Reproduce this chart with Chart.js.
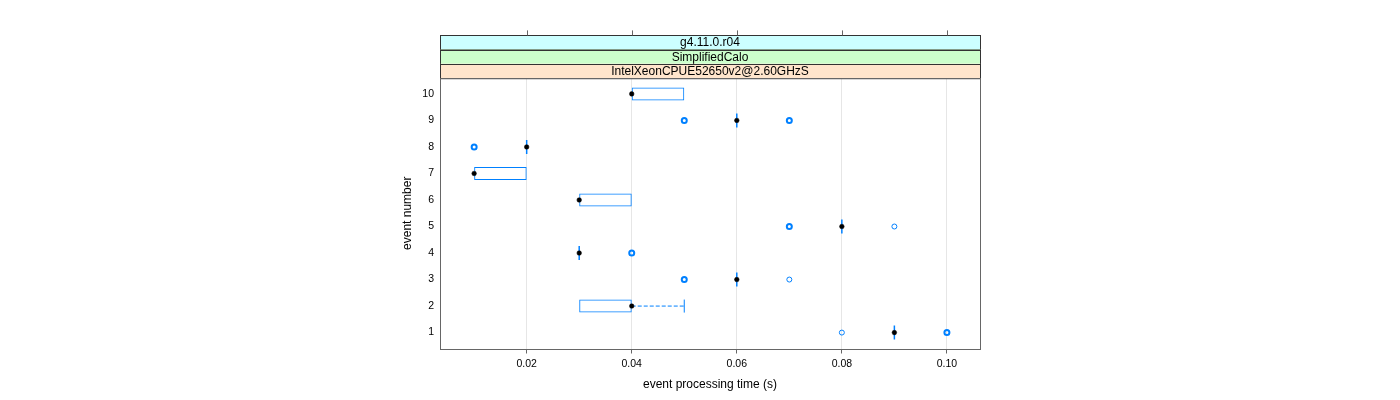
<!DOCTYPE html>
<html>
<head>
<meta charset="utf-8">
<script src="https://cdn.jsdelivr.net/npm/chart.js@4.4.1/dist/chart.umd.min.js"></script>
<style>
html, body { margin: 0; padding: 0; background: #fff; }
#wrap { width: 1400px; height: 400px; }
</style>
</head>
<body>
<div id="wrap"><canvas id="canvas" width="1400" height="400"></canvas></div>
<script>
// box plot summary per event
const events        = [1, 2, 3, 4, 5, 6, 7, 8, 9, 10];
const medians       = [0.09, 0.04, 0.06, 0.03, 0.08, 0.03, 0.01, 0.02, 0.06, 0.04];
const lowerHinges   = [0.09, 0.03, 0.06, 0.03, 0.08, 0.03, 0.01, 0.02, 0.06, 0.04];
const upperHinges   = [0.09, 0.04, 0.06, 0.03, 0.08, 0.04, 0.02, 0.02, 0.06, 0.05];
const upperWhiskers = [0.09, 0.05, 0.06, 0.03, 0.08, 0.04, 0.02, 0.02, 0.06, 0.05];

const outlierEvents = [9, 9, 8, 5, 5, 4, 3, 3, 1, 1];
const outlierTimes  = [0.05, 0.07, 0.01, 0.07, 0.09, 0.04, 0.05, 0.07, 0.08, 0.10];
const outlierCounts = [2, 2, 2, 2, 1, 2, 2, 1, 1, 2];

const xTicks = [0.02, 0.04, 0.06, 0.08, 0.10];
const xTickLabels = ["0.02", "0.04", "0.06", "0.08", "0.10"];
const yTicks = [1, 2, 3, 4, 5, 6, 7, 8, 9, 10];

const stripLabels = ["g4.11.0.r04", "SimplifiedCalo", "IntelXeonCPUE52650v2@2.60GHzS"];
const stripColors = ["#ccffff", "#ccffcc", "#ffe5cc"];

const blue = "#0080ff";
const fontFamily = "'Liberation Sans', Arial, Helvetica, sans-serif";

let boxes = [];
let flatBoxes = [];
events.forEach((e, i) => {
    if (upperHinges[i] > lowerHinges[i]) boxes.push({ y: e, x: [lowerHinges[i], upperHinges[i]] });
    else flatBoxes.push({ x: medians[i], y: e });
});

let whiskerSets = [];
let caps = [];
events.forEach((e, i) => {
    if (upperWhiskers[i] > upperHinges[i]) {
        whiskerSets.push({
            type: "scatter",
            data: [{ x: upperHinges[i], y: e }, { x: upperWhiskers[i], y: e }],
            showLine: true,
            borderColor: blue,
            borderWidth: 1,
            borderDash: [4, 2],
            pointRadius: 0
        });
        caps.push({ x: upperWhiskers[i], y: e });
    }
});

const stripsPlugin = {
    id: "strips",
    afterDraw(chart) {
        const ctx = chart.ctx;
        const area = chart.chartArea;
        const h = 14.2;
        const left = Math.round(area.left) + 0.5;
        const width = Math.round(area.right - area.left);
        ctx.save();
        // strips
        stripLabels.forEach((label, i) => {
            const top = area.top - (stripLabels.length - i) * h;
            ctx.fillStyle = stripColors[i];
            ctx.fillRect(left, top, width, h);
            ctx.strokeStyle = "#333";
            ctx.lineWidth = 1;
            ctx.strokeRect(left, Math.round(top) + 0.5, width, h);
            ctx.fillStyle = "#000";
            ctx.font = "12px " + fontFamily;
            ctx.textAlign = "center";
            ctx.textBaseline = "middle";
            ctx.fillText(label, (area.left + area.right) / 2, top + h / 2 + 0.5);
        });
        // top axis ticks
        const stripTop = area.top - stripLabels.length * h;
        ctx.strokeStyle = "#666";
        ctx.beginPath();
        xTicks.forEach(v => {
            const px = Math.round(chart.scales.x.getPixelForValue(v)) + 0.5;
            ctx.moveTo(px, stripTop);
            ctx.lineTo(px, stripTop - 5);
        });
        ctx.stroke();
        // panel border
        ctx.strokeStyle = "#666";
        ctx.strokeRect(left, Math.round(area.top) + 0.5, width, Math.round(area.bottom - area.top));
        ctx.restore();
    }
};

let chart = new Chart(document.getElementById("canvas").getContext("2d"), {
    type: "scatter",
    data: {
        datasets: [
            {
                data: events.map((e, i) => ({ x: medians[i], y: e })),
                pointRadius: 2.3,
                pointBackgroundColor: "#000",
                pointBorderColor: "#000",
                pointBorderWidth: 0.5
            },
            {
                data: outlierEvents.map((e, i) => ({ x: outlierTimes[i], y: e })),
                pointRadius: 2.5,
                pointBackgroundColor: "rgba(0,0,0,0)",
                pointBorderColor: blue,
                pointBorderWidth: ctx => outlierCounts[ctx.dataIndex] > 1 ? 2 : 1
            },
            {
                data: flatBoxes,
                pointStyle: "line",
                rotation: 90,
                pointRadius: 7,
                pointBorderColor: blue,
                pointBorderWidth: 1.5
            },
            {
                data: caps,
                pointStyle: "line",
                rotation: 90,
                pointRadius: 6.5,
                pointBorderColor: blue,
                pointBorderWidth: 1
            },
            ...whiskerSets,
            {
                type: "bar",
                indexAxis: "y",
                data: boxes,
                backgroundColor: "rgba(0,0,0,0)",
                borderColor: blue,
                borderWidth: 1,
                borderSkipped: false,
                barThickness: 13,
                grouped: false,
                inflateAmount: 0
            }
        ]
    },
    options: {
        responsive: false,
        animation: false,
        events: [],
        layout: {
            padding: { left: 380, right: 420, top: 78, bottom: 0 }
        },
        scales: {
            x: {
                type: "linear",
                position: "bottom",
                offset: false,
                min: 0.0035,
                max: 0.1063,
                afterBuildTicks: s => { s.ticks = xTicks.map(v => ({ value: v })); },
                afterFit: s => { s.height = 51.5; },
                ticks: {
                    callback: (v, i) => xTickLabels[i],
                    color: "#000",
                    font: { family: fontFamily, size: 10.5 },
                    padding: 4,
                    maxRotation: 0
                },
                grid: {
                    color: "#e6e6e6",
                    tickColor: "#666",
                    tickLength: 5,
                    offset: false
                },
                border: { display: false },
                title: {
                    display: true,
                    text: "event processing time (s)",
                    color: "#000",
                    font: { family: fontFamily, size: 12 },
                    padding: { top: 0, bottom: 8 }
                }
            },
            y: {
                type: "linear",
                offset: false,
                min: 0.4,
                max: 10.6,
                afterBuildTicks: s => { s.ticks = yTicks.map(v => ({ value: v })); },
                afterFit: s => { s.width = 60; },
                ticks: {
                    callback: v => String(v),
                    color: "#000",
                    font: { family: fontFamily, size: 10.5 },
                    padding: 6
                },
                grid: { display: false, drawTicks: false, offset: false },
                border: { display: false },
                title: {
                    display: true,
                    text: "event number",
                    color: "#000",
                    font: { family: fontFamily, size: 12 },
                    padding: { top: 20, bottom: 0 }
                }
            }
        },
        plugins: {
            legend: { display: false },
            tooltip: { enabled: false }
        }
    },
    plugins: [stripsPlugin]
});
</script>
</body>
</html>
